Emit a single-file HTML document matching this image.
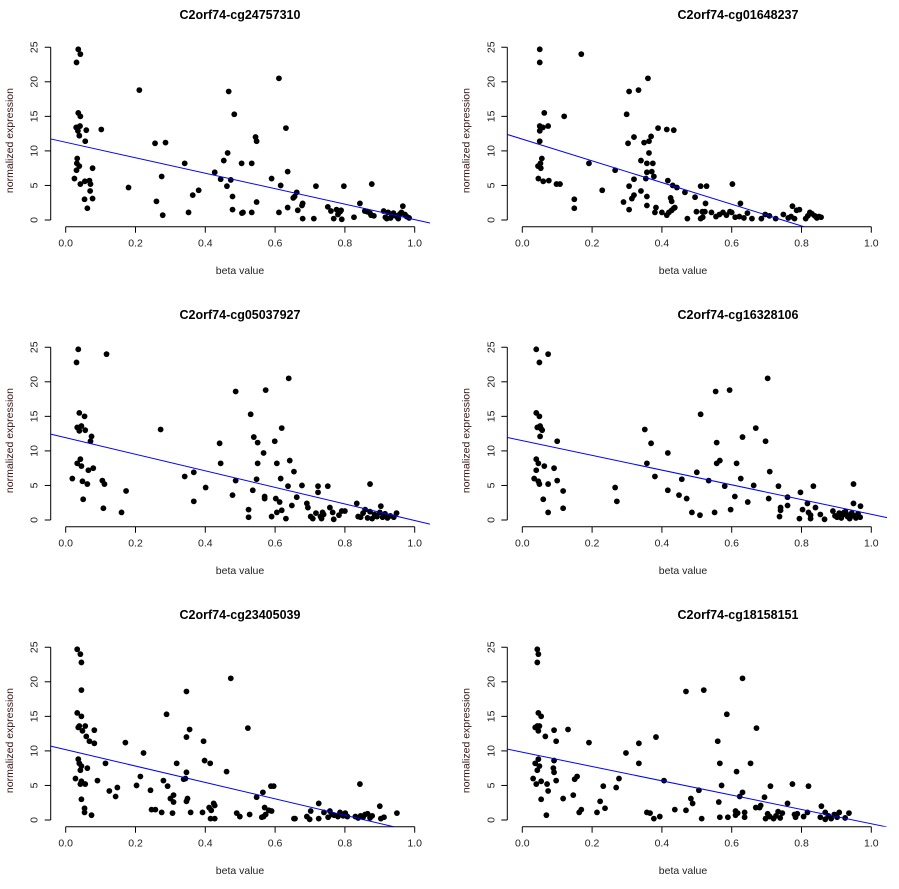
<!DOCTYPE html>
<html><head><meta charset="utf-8"><style>
body{margin:0;background:#fff;}
svg{display:block;font-family:"Liberation Sans",Arial,sans-serif;}
</style></head>
<body>
<svg id="chart" width="899" height="889" viewBox="0 0 899 889" xmlns="http://www.w3.org/2000/svg"></svg>
<script>
const titles=["C2orf74-cg24757310","C2orf74-cg01648237","C2orf74-cg05037927","C2orf74-cg16328106","C2orf74-cg23405039","C2orf74-cg18158151"];
const xTicks=[0,0.2,0.4,0.6,0.8,1.0];
const xTickLabels=["0.0","0.2","0.4","0.6","0.8","1.0"];
const yTicks=[0,5,10,15,20,25];
const intercepts=[11.25,11.7,11.91,11.48,10.18,9.81];
const slopes=[-11.2,-15.7,-11.99,-10.65,-11.87,-10.35];
const beta1=[.036,.042,.031,.036,.042,.03,.035,.041,.035,.039,.059,.056,.102,.033,.032,.031,.039,.025,.042,.055,.068,.071,.07,.077,.054,.077,.062,.18,.211,.256,.286,.275,.26,.278,.341,.352,.364,.381,.427,.444,.453,.467,.464,.462,.473,.478,.478,.483,.504,.505,.508,.533,.533,.544,.547,.547,.59,.611,.616,.611,.631,.636,.636,.652,.656,.662,.665,.677,.679,.679,.711,.717,.751,.76,.768,.776,.78,.786,.789,.791,.797,.826,.843,.857,.864,.872,.875,.883,.877,.911,.916,.924,.931,.939,.947,.953,.958,.966,.972,.977,.984,.92,.935,.95,.962];
const expr1=[24.7,24.0,22.8,15.5,15.0,13.4,13.4,13.6,12.9,12.2,13.0,11.4,13.1,8.9,8.2,7.2,7.8,6.0,5.2,5.6,5.7,5.2,4.2,7.5,3.0,3.1,1.7,4.7,18.8,11.1,11.2,6.3,2.7,0.7,8.2,1.1,3.6,4.3,6.9,5.9,8.6,18.6,9.7,4.9,5.8,3.4,1.5,15.3,8.2,1.0,1.1,8.2,1.1,12.0,11.4,2.6,6.0,20.5,5.0,1.1,13.3,7.0,1.8,3.2,3.4,4.0,1.4,2.1,2.4,0.2,0.2,4.9,1.9,1.3,0.2,1.5,0.8,1.2,1.4,0.1,4.9,0.4,2.4,1.3,1.2,1.0,0.7,0.6,5.2,1.3,0.4,1.1,0.3,1.0,0.6,0.2,0.9,2.0,0.8,0.5,0.3,0.2,0.6,0.4,1.1];
const beta2=[.05,.05,.169,.063,.12,.05,.059,.074,.05,.05,.056,.052,.045,.053,.046,.06,.076,.098,.108,.149,.149,.191,.229,.266,.29,.306,.333,.299,.303,.32,.36,.349,.363,.369,.363,.34,.357,.374,.357,.371,.377,.354,.32,.306,.34,.32,.314,.357,.357,.306,.383,.38,.389,.414,.434,.417,.431,.443,.425,.428,.4,.414,.42,.428,.434,.437,.466,.473,.495,.499,.511,.528,.525,.516,.523,.511,.517,.542,.555,.565,.575,.585,.595,.61,.622,.635,.645,.602,.625,.6,.658,.685,.696,.708,.726,.748,.762,.77,.774,.78,.786,.794,.812,.818,.824,.83,.838,.844,.85,.856];
const expr2=[24.7,22.8,24.0,15.5,15.0,13.6,13.4,13.6,12.9,11.4,8.9,8.2,7.8,7.5,6.0,5.6,5.7,5.2,5.2,3.0,1.7,8.2,4.3,7.2,2.6,18.6,18.8,15.3,11.1,12.0,20.5,11.2,11.4,12.1,9.7,8.6,8.2,8.2,6.9,7.0,6.3,6.0,5.9,4.9,4.2,3.6,3.1,3.4,2.1,1.5,1.8,1.1,13.3,13.1,13.0,5.7,5.0,4.7,3.2,2.7,1.1,0.7,1.1,1.4,1.7,1.8,4.0,0.2,3.3,1.2,4.9,4.9,2.4,1.2,1.2,0.2,0.4,1.1,0.5,0.8,1.1,0.7,1.2,0.4,0.5,0.3,1.0,5.2,2.4,1.1,0.2,0.2,0.8,0.6,0.2,0.8,0.3,0.5,2.0,0.2,1.4,1.5,0.2,0.6,1.1,0.9,0.6,0.3,0.5,0.4];
const beta3=[.036,.031,.117,.039,.054,.033,.045,.039,.056,.074,.071,.042,.033,.045,.079,.065,.019,.048,.062,.05,.105,.111,.108,.16,.173,.272,.341,.367,.367,.401,.441,.444,.478,.487,.487,.524,.524,.53,.539,.536,.55,.55,.547,.567,.57,.57,.573,.599,.605,.602,.605,.59,.613,.616,.619,.619,.631,.637,.639,.642,.648,.654,.662,.677,.691,.694,.702,.708,.717,.723,.723,.73,.733,.736,.739,.751,.757,.765,.768,.783,.791,.8,.834,.838,.845,.852,.858,.865,.872,.878,.885,.892,.9,.908,.915,.922,.93,.94,.948,.872,.903];
const expr3=[24.7,22.8,24.0,15.5,15.0,13.4,13.6,12.9,13.0,12.1,11.4,8.8,8.2,7.8,7.5,7.2,6.0,5.6,5.2,3.0,5.7,5.2,1.7,1.1,4.2,13.1,6.3,6.9,2.7,4.7,11.1,8.2,3.6,18.6,5.7,1.5,0.4,15.3,12.0,4.3,11.2,8.2,5.9,9.7,3.4,3.1,18.8,11.4,8.2,3.1,1.1,0.5,2.6,6.0,13.3,1.4,0.2,4.9,20.5,8.6,2.1,7.0,3.3,5.0,2.4,1.8,0.5,0.2,1.0,4.9,4.0,0.5,0.2,1.1,0.8,4.9,1.8,1.1,0.1,0.7,1.3,1.3,2.4,0.5,0.4,1.0,1.5,0.3,1.2,0.2,0.8,0.5,1.1,0.4,0.9,0.3,0.6,0.4,1.0,5.2,2.0];
const beta4=[.04,.074,.049,.04,.049,.043,.051,.054,.057,.051,.1,.04,.046,.04,.063,.091,.034,.046,.049,.074,.1,.06,.117,.117,.074,.266,.271,.351,.369,.357,.38,.417,.417,.449,.457,.471,.486,.5,.509,.511,.534,.551,.554,.557,.557,.566,.58,.594,.597,.609,.614,.626,.631,.646,.663,.669,.697,.703,.706,.709,.734,.737,.74,.74,.76,.76,.794,.797,.803,.817,.82,.826,.826,.834,.84,.854,.866,.89,.896,.902,.908,.914,.92,.926,.932,.938,.944,.95,.956,.962,.968,.949,.949,.969,.922,.935];
const expr4=[24.7,24.0,22.8,15.5,15.0,13.4,13.6,13.2,13.0,12.1,11.4,8.8,8.2,7.2,7.8,7.5,6.0,5.6,5.2,5.2,5.7,3.0,4.2,1.7,1.1,4.7,2.7,13.1,11.1,8.2,6.3,9.7,4.3,3.6,5.9,3.1,1.1,6.9,0.7,15.3,5.7,1.1,18.6,11.2,8.2,8.6,4.9,18.8,1.5,3.4,8.2,6.0,12.0,2.6,5.0,13.3,11.4,20.5,3.1,7.0,4.9,0.5,1.8,1.4,3.3,2.1,0.2,4.0,1.5,2.4,1.1,0.7,0.2,4.9,1.8,0.8,0.1,1.3,0.6,0.4,1.0,0.3,0.8,1.2,0.5,0.2,1.0,0.6,0.3,0.9,0.4,2.4,5.2,2.0,1.1,0.7];
const beta5=[.033,.042,.045,.045,.033,.045,.036,.039,.056,.048,.059,.068,.082,.082,.036,.039,.042,.045,.062,.028,.045,.042,.056,.045,.054,.054,.074,.091,.114,.125,.143,.148,.171,.203,.214,.223,.243,.246,.257,.275,.28,.289,.292,.3,.309,.309,.306,.318,.338,.343,.346,.346,.346,.349,.346,.355,.358,.392,.395,.398,.411,.414,.417,.424,.427,.415,.427,.461,.473,.49,.499,.522,.527,.547,.565,.562,.567,.57,.573,.582,.588,.596,.59,.654,.657,.691,.699,.702,.725,.725,.74,.752,.757,.763,.769,.78,.786,.795,.801,.807,.83,.838,.845,.852,.858,.865,.872,.878,.843,.9,.903,.912,.949];
const expr5=[24.7,24.0,22.8,18.8,15.5,15.0,13.4,13.6,13.6,12.9,12.1,11.4,13.0,11.1,8.8,8.2,7.2,7.8,7.5,6.0,5.6,5.2,5.2,3.0,1.7,1.1,0.7,5.7,8.2,4.2,3.4,4.7,11.2,5.0,6.3,9.7,4.3,1.5,1.5,1.1,5.7,15.3,4.9,3.1,3.6,2.6,1.0,8.2,5.9,6.0,12.0,18.6,6.9,3.1,2.7,13.1,1.1,1.1,11.4,8.6,1.8,8.2,1.4,2.4,2.1,0.2,0.2,7.0,20.5,1.0,0.5,13.3,0.8,3.3,4.0,0.4,0.5,1.8,0.8,1.4,4.9,4.9,1.3,0.2,0.2,0.5,0.1,1.3,0.2,2.4,1.1,0.4,1.3,0.8,0.7,0.5,1.1,0.6,1.0,0.5,0.5,0.3,0.6,0.4,0.8,0.9,0.3,0.6,5.2,2.0,0.2,0.4,1.0];
const beta6=[.043,.046,.043,.046,.054,.037,.043,.049,.046,.066,.091,.097,.131,.191,.046,.037,.043,.049,.089,.091,.091,.031,.04,.054,.071,.097,.054,.074,.069,.117,.146,.15,.157,.163,.169,.214,.223,.232,.237,.269,.277,.297,.334,.334,.357,.366,.377,.383,.394,.406,.437,.469,.469,.483,.488,.506,.514,.52,.56,.563,.566,.566,.571,.586,.589,.611,.611,.617,.614,.623,.631,.631,.637,.637,.654,.669,.671,.68,.683,.694,.697,.703,.709,.711,.72,.727,.733,.739,.745,.76,.774,.78,.783,.788,.806,.817,.82,.854,.857,.868,.868,.877,.885,.894,.902,.908,.925,.936];
const expr6=[24.7,24.0,22.8,15.5,15.0,13.4,13.6,13.6,12.9,12.1,13.0,11.4,13.1,11.2,8.8,8.2,7.2,7.8,7.5,8.6,6.9,6.0,5.2,5.6,5.2,5.7,3.0,4.2,0.7,3.1,3.6,5.9,6.3,1.1,1.5,1.1,2.7,4.9,1.7,4.7,6.0,9.7,11.1,8.2,1.1,1.0,0.2,12.0,0.5,5.7,1.5,18.6,1.4,3.1,2.4,4.3,0.2,18.8,11.4,2.6,8.2,0.4,5.0,15.3,0.4,1.3,0.7,1.0,7.0,3.4,20.5,4.0,1.1,0.4,8.2,1.8,13.3,1.8,2.1,3.3,0.2,0.9,0.5,4.9,0.2,0.6,1.2,0.3,1.0,2.4,5.2,0.8,0.4,0.9,0.5,1.1,4.9,0.4,2.0,1.1,0.1,0.6,0.2,0.8,0.4,1.1,0.3,1.0];
const betas=[beta1,beta2,beta3,beta4,beta5,beta6];
const exprs=[expr1,expr2,expr3,expr4,expr5,expr6];

const NS="http://www.w3.org/2000/svg";
const svg=document.getElementById('chart');
function mk(tag,attrs,parent){const e=document.createElementNS(NS,tag);for(const k in attrs)e.setAttribute(k,attrs[k]);(parent||svg).appendChild(e);return e;}

for(let p=0;p<6;p++){
  const col=p%2,row=Math.floor(p/2);
  const ox=col*456.6, oy=row*300;
  const x0=65.7+ox, xs=349, y0=220+oy, ys=6.91;
  const X=v=>x0+v*xs, Y=v=>y0-v*ys;
  const left=50.7+ox, right=col?887:430;
  const top=Y(26.5), bottom=Y(-0.97);
  const g=mk('g',{});
  
  
  const cid='clip'+p;
  const cp=mk('clipPath',{id:cid},g);
  mk('rect',{x:left,y:top,width:right-left,height:bottom-top},cp);
  const t=mk('text',{x:(col?738:240),y:19+oy,'text-anchor':'middle','font-size':'12.5','font-weight':'bold'},g);
  t.textContent=titles[p];
  
  
  const xa=mk('g',{},g);
  
  
  const axY=226.7+oy;
  mk('line',{x1:X(xTicks[0]),x2:X(xTicks[xTicks.length-1]),y1:axY,y2:axY,stroke:'#000','stroke-width':1},xa);
  xTicks.forEach((v,i)=>{
    mk('line',{x1:X(v),x2:X(v),y1:axY,y2:axY+6,stroke:'#000'},xa);
    const tl=mk('text',{x:X(v),y:axY+20,'text-anchor':'middle','font-size':'10.5',fill:'#222'},xa);
    tl.textContent=xTickLabels[i];
    
    
  });
  const xl=mk('text',{x:(col?683:240),y:274+oy,'text-anchor':'middle','font-size':'10.5',fill:'#222'},g);
  xl.textContent='beta value';
  
  
  const ya=mk('g',{},g);
  
  
  const axX=50.7+ox;
  mk('line',{x1:axX,x2:axX,y1:Y(0),y2:Y(25),stroke:'#000'},ya);
  yTicks.forEach(v=>{
    mk('line',{x1:axX-6,x2:axX,y1:Y(v),y2:Y(v),stroke:'#000'},ya);
    const tl=mk('text',{x:0,y:0,'text-anchor':'middle','font-size':'10.5',fill:'#222',transform:`translate(${axX-13},${Y(v)}) rotate(-90)`},ya);
    tl.textContent=String(v);
    
    
  });
  const yl=mk('text',{x:0,y:0,'text-anchor':'middle','font-size':'10.5',fill:'#311',transform:`translate(${13+ox},${Y(11.5)}) rotate(-90)`},g);
  yl.textContent='normalized expression';
  
  
  const pg=mk('g',{},g);
  
  
  const bs=betas[p], es=exprs[p];
  for(let i=0;i<bs.length;i++){
    const c=mk('circle',{cx:X(bs[i]),cy:Y(es[i]),r:2.9,fill:'#000'},pg);
    
    
  }
  const xa0=(left-x0)/xs, xa1=(right-x0)/xs;
  const ln=mk('line',{x1:X(xa0),y1:Y(intercepts[p]+slopes[p]*xa0),x2:X(xa1),y2:Y(intercepts[p]+slopes[p]*xa1),stroke:'#0000ff','stroke-width':1,'clip-path':`url(#${cid})`},g);
  
  
}
</script>
</body></html>
